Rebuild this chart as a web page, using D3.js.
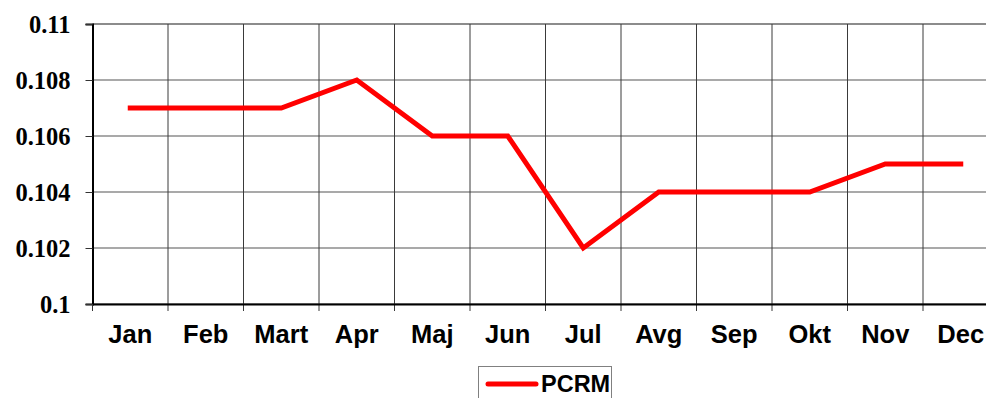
<!DOCTYPE html>
<html>
<head>
<meta charset="utf-8">
<script src="https://cdn.jsdelivr.net/npm/d3@7"></script>
<style>
  html, body { margin: 0; padding: 0; background: #fff; overflow: hidden; }
  svg { display: block; }
</style>
</head>
<body>
<svg id="chart" width="986" height="398"></svg>
<script>
// Monthly PCRM values
const months = ["Jan", "Feb", "Mart", "Apr", "Maj", "Jun", "Jul", "Avg", "Sep", "Okt", "Nov", "Dec"];
const pcrm = [0.107, 0.107, 0.107, 0.108, 0.106, 0.106, 0.102, 0.104, 0.104, 0.104, 0.105, 0.105];
const yTicks = [0.1, 0.102, 0.104, 0.106, 0.108, 0.11];
const seriesName = "PCRM";

const svg = d3.select("#chart");
const plotLeft = 92.5, plotRight = 998.5, plotTop = 24, plotBottom = 304;

const x = d3.scaleBand().domain(months).range([plotLeft, plotRight]).padding(0);
const y = d3.scaleLinear().domain([0.1, 0.11]).range([plotBottom, plotTop]);

// Horizontal gridlines
svg.append("g").selectAll("line").data(yTicks).join("line")
  .attr("x1", plotLeft).attr("x2", plotRight)
  .attr("y1", d => y(d)).attr("y2", d => y(d))
  .attr("stroke", "#8c8c8c").attr("stroke-width", d => d === 0.11 ? 2 : 1.5);

// Vertical gridlines on category boundaries
const boundaries = months.slice(1).map(m => x(m));
svg.append("g").selectAll("line").data(boundaries).join("line")
  .attr("x1", d => d).attr("x2", d => d)
  .attr("y1", plotTop).attr("y2", plotBottom + 7)
  .attr("stroke", "#3a3a3a").attr("stroke-width", 1);

// Y axis
const yAxis = d3.axisLeft(y).tickValues(yTicks).tickSize(7).tickFormat(d => String(+d.toFixed(3)));
const gy = svg.append("g").attr("transform", `translate(${plotLeft},0)`).call(yAxis);
gy.select(".domain").attr("stroke", "#000").attr("stroke-width", 2);
gy.selectAll(".tick line").attr("stroke", "#333").attr("stroke-width", 1);
gy.selectAll(".tick text")
  .attr("x", -22).attr("dy", "0.33em")
  .attr("font-family", "'Liberation Serif', 'Times New Roman', serif")
  .attr("font-weight", "bold").attr("font-size", 24.5).attr("fill", "#000");

// X axis
const xAxis = d3.axisBottom(x).tickSize(0).tickPadding(0);
const gx = svg.append("g").attr("transform", `translate(0,${plotBottom})`).call(xAxis);
gx.select(".domain").attr("stroke", "#000").attr("stroke-width", 2);
gx.selectAll(".tick text")
  .attr("y", 39).attr("dy", 0)
  .attr("font-family", "'Liberation Sans', Arial, sans-serif")
  .attr("font-weight", "bold").attr("font-size", 25.5).attr("fill", "#000");
svg.append("line").attr("x1", plotLeft).attr("x2", plotLeft).attr("y1", plotBottom).attr("y2", plotBottom + 7)
  .attr("stroke", "#333").attr("stroke-width", 1);

// Series line
const line = d3.line()
  .x((d, i) => x(months[i]) + x.bandwidth() / 2)
  .y(d => y(d));
svg.append("path").datum(pcrm)
  .attr("d", line)
  .attr("fill", "none")
  .attr("stroke", "#ff0000")
  .attr("stroke-width", 5)
  .attr("stroke-linejoin", "miter")
  .attr("stroke-linecap", "square");

// Legend
const lg = svg.append("g");
lg.append("rect").attr("x", 478.5).attr("y", 366.5).attr("width", 133).attr("height", 40)
  .attr("fill", "#fff").attr("stroke", "#808080").attr("stroke-width", 1);
lg.append("line").attr("x1", 488).attr("x2", 536).attr("y1", 384).attr("y2", 384)
  .attr("stroke", "#ff0000").attr("stroke-width", 5).attr("stroke-linecap", "round");
lg.append("text").attr("x", 541).attr("y", 392).text(seriesName)
  .attr("font-family", "'Liberation Sans', Arial, sans-serif")
  .attr("font-weight", "bold").attr("font-size", 23.5).attr("fill", "#000");
</script>
</body>
</html>
